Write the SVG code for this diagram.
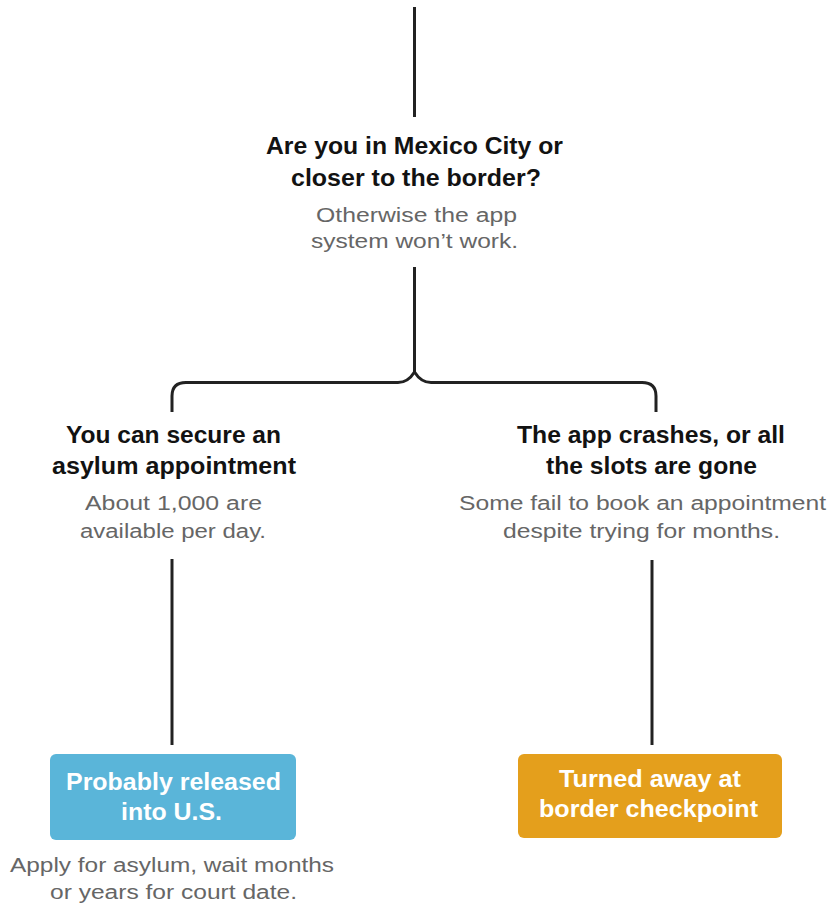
<svg xmlns="http://www.w3.org/2000/svg" width="831" height="907" viewBox="0 0 831 907">
<style>
.t{font-family:"Liberation Sans",Arial,sans-serif;font-weight:bold;font-size:23.5px;fill:#121212;text-anchor:middle}
.s{font-family:"Liberation Sans",Arial,sans-serif;font-size:19.5px;fill:#666;text-anchor:middle}
.b{font-family:"Liberation Sans",Arial,sans-serif;font-weight:bold;font-size:23.5px;fill:#fff;text-anchor:middle}
.c{fill:none;stroke:#222;stroke-width:3;stroke-linecap:butt}
</style>
<rect width="831" height="907" fill="#fff"/>
<g id="connectors">
<line class="c" x1="414.5" y1="7" x2="414.5" y2="117"/>
<line class="c" x1="414.5" y1="267" x2="414.5" y2="372"/>
<path class="c" d="M172,412 V396 Q172,382.5 186,382.5 H398 Q408,382.5 414.5,372 Q421,382.5 431,382.5 H642 Q656,382.5 656,396 V412"/>
<line class="c" x1="172" y1="559" x2="172" y2="745"/>
<line class="c" x1="652" y1="560" x2="652" y2="745"/>
</g>
<g id="question">
<text class="t" x="414.5" y="154" textLength="297" lengthAdjust="spacingAndGlyphs">Are you in Mexico City or</text>
<text class="t" x="416" y="186" textLength="250" lengthAdjust="spacingAndGlyphs">closer to the border?</text>
<text class="s" x="416.5" y="222" textLength="201" lengthAdjust="spacingAndGlyphs">Otherwise the app</text>
<text class="s" x="414.5" y="248" textLength="207" lengthAdjust="spacingAndGlyphs">system won’t work.</text>
</g>
<g id="secure">
<text class="t" x="173.5" y="443" textLength="215" lengthAdjust="spacingAndGlyphs">You can secure an</text>
<text class="t" x="174" y="474" textLength="244" lengthAdjust="spacingAndGlyphs">asylum appointment</text>
<text class="s" x="173.5" y="510" textLength="177" lengthAdjust="spacingAndGlyphs">About 1,000 are</text>
<text class="s" x="173" y="538" textLength="186" lengthAdjust="spacingAndGlyphs">available per day.</text>
</g>
<g id="crashes">
<text class="t" x="651" y="443" textLength="268" lengthAdjust="spacingAndGlyphs">The app crashes, or all</text>
<text class="t" x="651.5" y="474" textLength="211" lengthAdjust="spacingAndGlyphs">the slots are gone</text>
<text class="s" x="642.5" y="510" textLength="367" lengthAdjust="spacingAndGlyphs">Some fail to book an appointment</text>
<text class="s" x="641.5" y="538" textLength="277" lengthAdjust="spacingAndGlyphs">despite trying for months.</text>
</g>
<g id="released">
<rect x="50" y="754" width="246" height="86" rx="6" fill="#5ab5d9"/>
<text class="b" x="173.5" y="790" textLength="215" lengthAdjust="spacingAndGlyphs">Probably released</text>
<text class="b" x="171.5" y="820" textLength="101" lengthAdjust="spacingAndGlyphs">into U.S.</text>
<text class="s" x="172" y="872" textLength="324" lengthAdjust="spacingAndGlyphs">Apply for asylum, wait months</text>
<text class="s" x="173.5" y="899" textLength="247" lengthAdjust="spacingAndGlyphs">or years for court date.</text>
</g>
<g id="turned">
<rect x="518" y="754" width="264" height="84" rx="6" fill="#e49f1c"/>
<text class="b" x="650" y="787" textLength="182" lengthAdjust="spacingAndGlyphs">Turned away at</text>
<text class="b" x="648.5" y="817" textLength="219" lengthAdjust="spacingAndGlyphs">border checkpoint</text>
</g>
</svg>
